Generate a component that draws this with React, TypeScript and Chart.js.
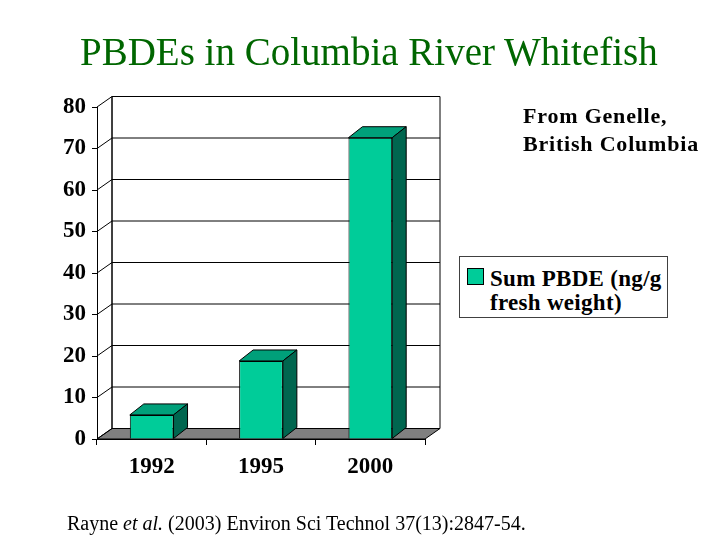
import React, { useEffect, useRef } from "react";
import { Chart, registerables } from "chart.js";

Chart.register(...registerables);

// ---- data ----
const categories = ["1992", "1995", "2000"];
const sumPBDE = [5.8, 18.8, 72.6];
const seriesLabel = "Sum PBDE (ng/g fresh weight)";
const legendLines = ["Sum PBDE (ng/g", "fresh weight)"];
const yMin = 0;
const yMax = 80;
const yStep = 10;
const titleText = "PBDEs in Columbia River Whitefish";
const noteLines = ["From Genelle,", "British Columbia"];

const FONT = '"Liberation Serif", "Times New Roman", Times, serif';
const FRONT = "#00CC99";
const TOP = "#00A07A";
const SIDE = "#00664F";
const FLOOR = "#808080";
const DX = 15;
const DY = 10.5;
const BDX = 14;
const BDY = 11;

const depthPlugin = {
  id: "depth3d",
  beforeDatasetsDraw(chart: any) {
    const { ctx, chartArea, scales } = chart;
    const { left, right, top, bottom } = chartArea;
    const y = scales.y;
    ctx.save();
    ctx.lineWidth = 1;
    ctx.strokeStyle = "#000";
    // back wall
    ctx.fillStyle = "#fff";
    ctx.beginPath();
    ctx.rect(left + DX, top - DY, right - left, bottom - top);
    ctx.fill();
    ctx.stroke();
    // floor
    ctx.fillStyle = FLOOR;
    ctx.beginPath();
    ctx.moveTo(left, bottom);
    ctx.lineTo(right, bottom);
    ctx.lineTo(right + DX, bottom - DY);
    ctx.lineTo(left + DX, bottom - DY);
    ctx.closePath();
    ctx.fill();
    ctx.stroke();
    // grid lines (left wall diagonals + back wall)
    y.ticks.forEach((t: any) => {
      const py = y.getPixelForValue(t.value);
      ctx.beginPath();
      ctx.moveTo(left, py);
      ctx.lineTo(left + DX, py - DY);
      ctx.lineTo(right + DX, py - DY);
      ctx.stroke();
    });
    // back-left vertical edge
    ctx.beginPath();
    ctx.moveTo(left + DX, top - DY);
    ctx.lineTo(left + DX, bottom - DY);
    ctx.stroke();
    ctx.restore();
  },
  afterDatasetsDraw(chart: any) {
    const { ctx } = chart;
    const meta = chart.getDatasetMeta(0);
    ctx.save();
    ctx.lineWidth = 1;
    ctx.strokeStyle = "#000";
    meta.data.forEach((bar: any) => {
      const { x, y, base, width } = bar.getProps(["x", "y", "base", "width"], true);
      const l = x - width / 2;
      const r = x + width / 2;
      // top face
      ctx.fillStyle = TOP;
      ctx.beginPath();
      ctx.moveTo(l, y);
      ctx.lineTo(r, y);
      ctx.lineTo(r + BDX, y - BDY);
      ctx.lineTo(l + BDX, y - BDY);
      ctx.closePath();
      ctx.fill();
      ctx.stroke();
      // side face
      ctx.fillStyle = SIDE;
      ctx.beginPath();
      ctx.moveTo(r, y);
      ctx.lineTo(r + BDX, y - BDY);
      ctx.lineTo(r + BDX, base - BDY);
      ctx.lineTo(r, base);
      ctx.closePath();
      ctx.fill();
      ctx.stroke();
    });
    ctx.restore();
  },
};

export default function App() {
  const canvasRef = useRef<HTMLCanvasElement>(null);

  useEffect(() => {
    const canvas = canvasRef.current;
    if (!canvas) return;
    const chart = new Chart(canvas, {
      type: "bar",
      data: {
        labels: categories,
        datasets: [
          {
            label: seriesLabel,
            data: sumPBDE,
            backgroundColor: FRONT,
            borderColor: "#000",
            borderWidth: 1,
            barPercentage: 0.4,
            categoryPercentage: 1,
          },
        ],
      },
      options: {
        responsive: false,
        animation: false,
        layout: { padding: { top: 107, right: 295, bottom: 61, left: 0 } },
        plugins: {
          legend: { display: false },
          title: { display: false },
          tooltip: { enabled: false },
        },
        scales: {
          x: {
            offset: true,
            grid: {
              offset: true,
              drawOnChartArea: false,
              drawTicks: true,
              tickLength: 6,
              color: "#000",
            },
            border: { display: true, color: "#000" },
            ticks: {
              color: "#000",
              padding: 8,
              font: { family: FONT, size: 23, weight: "bold" },
            },
            afterFit: (s: any) => {
              s.height = 40;
            },
          },
          y: {
            min: yMin,
            max: yMax,
            ticks: {
              stepSize: yStep,
              color: "#000",
              padding: 6,
              font: { family: FONT, size: 23, weight: "bold" },
            },
            grid: {
              drawOnChartArea: false,
              drawTicks: true,
              tickLength: 5,
              color: "#000",
            },
            border: { display: true, color: "#000" },
            afterFit: (s: any) => {
              s.width = 97;
            },
          },
        },
      },
      plugins: [depthPlugin],
    } as any);
    return () => chart.destroy();
  }, []);

  return (
    <div
      style={{
        position: "absolute",
        left: 0,
        top: 0,
        width: 720,
        height: 540,
        background: "#fff",
        overflow: "hidden",
        fontFamily: FONT,
      }}
    >
      <canvas
        ref={canvasRef}
        width={720}
        height={540}
        style={{ position: "absolute", left: 0, top: 0, width: 720, height: 540 }}
      />
      <div
        style={{
          position: "absolute",
          left: 80,
          top: 32,
          fontSize: 39,
          lineHeight: "39px",
          color: "#006600",
          whiteSpace: "nowrap",
        }}
      >
        {titleText}
      </div>
      <div
        style={{
          position: "absolute",
          left: 523,
          top: 102,
          fontSize: 22,
          lineHeight: "27.7px",
          fontWeight: "bold",
          letterSpacing: "0.8px",
          color: "#000",
          whiteSpace: "nowrap",
        }}
      >
        {noteLines.map((l, i) => (
          <div key={i}>{l}</div>
        ))}
      </div>
      <div
        style={{
          position: "absolute",
          left: 459,
          top: 256,
          width: 209,
          height: 62,
          boxSizing: "border-box",
          border: "1px solid #404040",
          background: "#fff",
        }}
      >
        <div
          style={{
            position: "absolute",
            left: 7,
            top: 11,
            width: 17,
            height: 17,
            boxSizing: "border-box",
            border: "1px solid #000",
            background: FRONT,
          }}
        />
        <div
          style={{
            position: "absolute",
            left: 30,
            top: 10,
            fontSize: 23,
            lineHeight: "23.5px",
            fontWeight: "bold",
            letterSpacing: "0.3px",
            color: "#000",
            whiteSpace: "nowrap",
          }}
        >
          {legendLines.map((l, i) => (
            <div key={i}>{l}</div>
          ))}
        </div>
      </div>
      <div
        style={{
          position: "absolute",
          left: 67,
          top: 513,
          fontSize: 20,
          lineHeight: "20px",
          color: "#000",
          whiteSpace: "nowrap",
        }}
      >
        Rayne <i>et al.</i> (2003) Environ Sci Technol 37(13):2847-54.
      </div>
    </div>
  );
}
